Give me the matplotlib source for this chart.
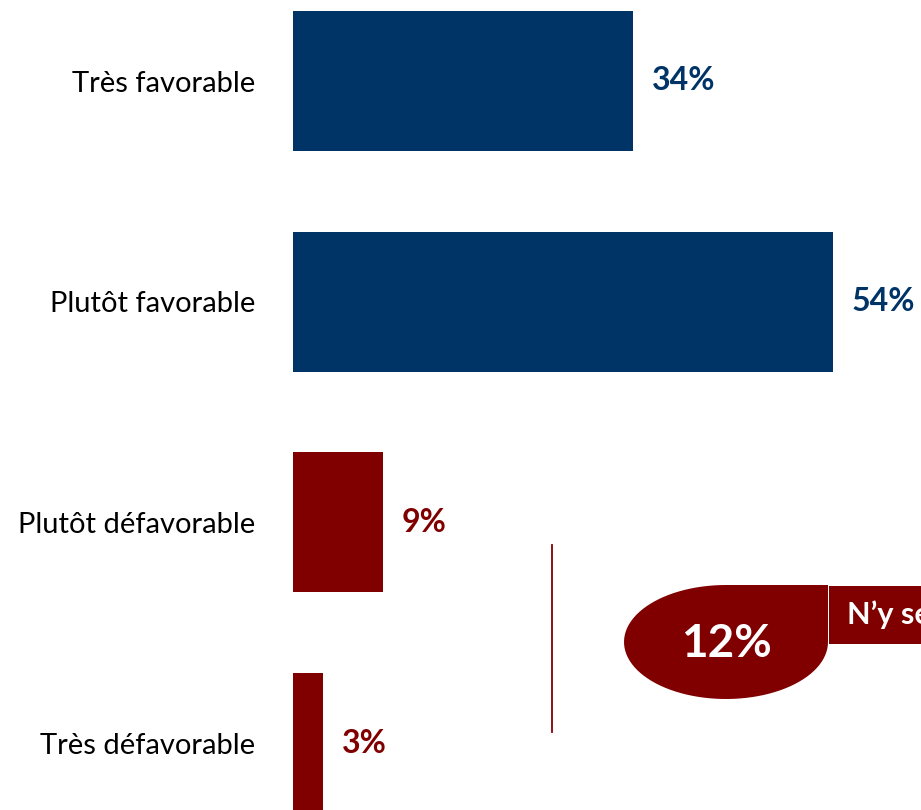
import matplotlib.pyplot as plt
import numpy as np
from matplotlib.path import Path
from matplotlib.patches import PathPatch, Rectangle
from matplotlib.lines import Line2D

categories = ['Très favorable', 'Plutôt favorable', 'Plutôt défavorable', 'Très défavorable']
values = [34, 54, 9, 3]
bar_colors = ['#003366', '#003366', '#800000', '#800000']
nsp_value = 12
nsp_label = 'N’y se prononcent pas'

plt.rcParams['font.family'] = ['Lato', 'DejaVu Sans']

W, H = 921, 810
fig = plt.figure(figsize=(W / 100, H / 100), dpi=100)

# bars area: x=0 at pixel 293, about 10 px per percent
x0_px = 293
px_per_pct = 10.0
ax = fig.add_axes([x0_px / W, 0, 1 - x0_px / W, 1])
ax.set_xlim(0, (W - x0_px) / px_per_pct)
pitch = 220.7
ax.set_ylim((H - 81) / pitch, -81 / pitch)

y = np.arange(len(categories))
ax.barh(y, values, height=0.635, color=bar_colors)
for i, v in enumerate(values):
    ax.annotate(f'{v}%', (v, i), xytext=(13.5, 0), textcoords='offset points',
                ha='left', va='center', fontsize=23, fontweight='bold',
                color=bar_colors[i])

ax.set_yticks(y)
ax.set_yticklabels(categories, fontsize=21)
ax.tick_params(axis='y', length=0, pad=27)
ax.tick_params(axis='x', bottom=False, labelbottom=False)
for s in ax.spines.values():
    s.set_visible(False)


def fx(px):
    return px / W


def fy(py):
    return 1 - py / H


# separator line
fig.add_artist(Line2D([fx(552), fx(552)], [fy(545), fy(732)],
                      color='#800000', lw=1.3, transform=fig.transFigure))

# teardrop callout (top-right corner square)
cx, cy, rx, ry = 726, 642, 102, 57
t = np.linspace(0, np.pi * 1.5, 80)
pts = [(cx + rx, cy)]
for a in t:
    pts.append((cx + rx * np.cos(a), cy + ry * np.sin(a)))
pts += [(cx + rx, cy - ry), (cx + rx, cy)]
verts = [(fx(px), fy(py)) for px, py in pts]
codes = [Path.MOVETO] + [Path.LINETO] * (len(verts) - 2) + [Path.CLOSEPOLY]
fig.add_artist(PathPatch(Path(verts, codes), facecolor='#800000', edgecolor='none',
                         transform=fig.transFigure))
fig.text(fx(726), fy(644), f'{nsp_value}%', ha='center', va='center', fontsize=33,
         fontweight='bold', color='white')

# label box, running off the right edge as in the original
fig.add_artist(Rectangle((fx(829), fy(644)), fx(200), (644 - 586) / H,
                         facecolor='#800000', edgecolor='none', transform=fig.transFigure))
fig.text(fx(847), fy(615), nsp_label, ha='left', va='center', fontsize=22,
         fontweight='bold', color='white')

fig.savefig('out.png', dpi=100)
